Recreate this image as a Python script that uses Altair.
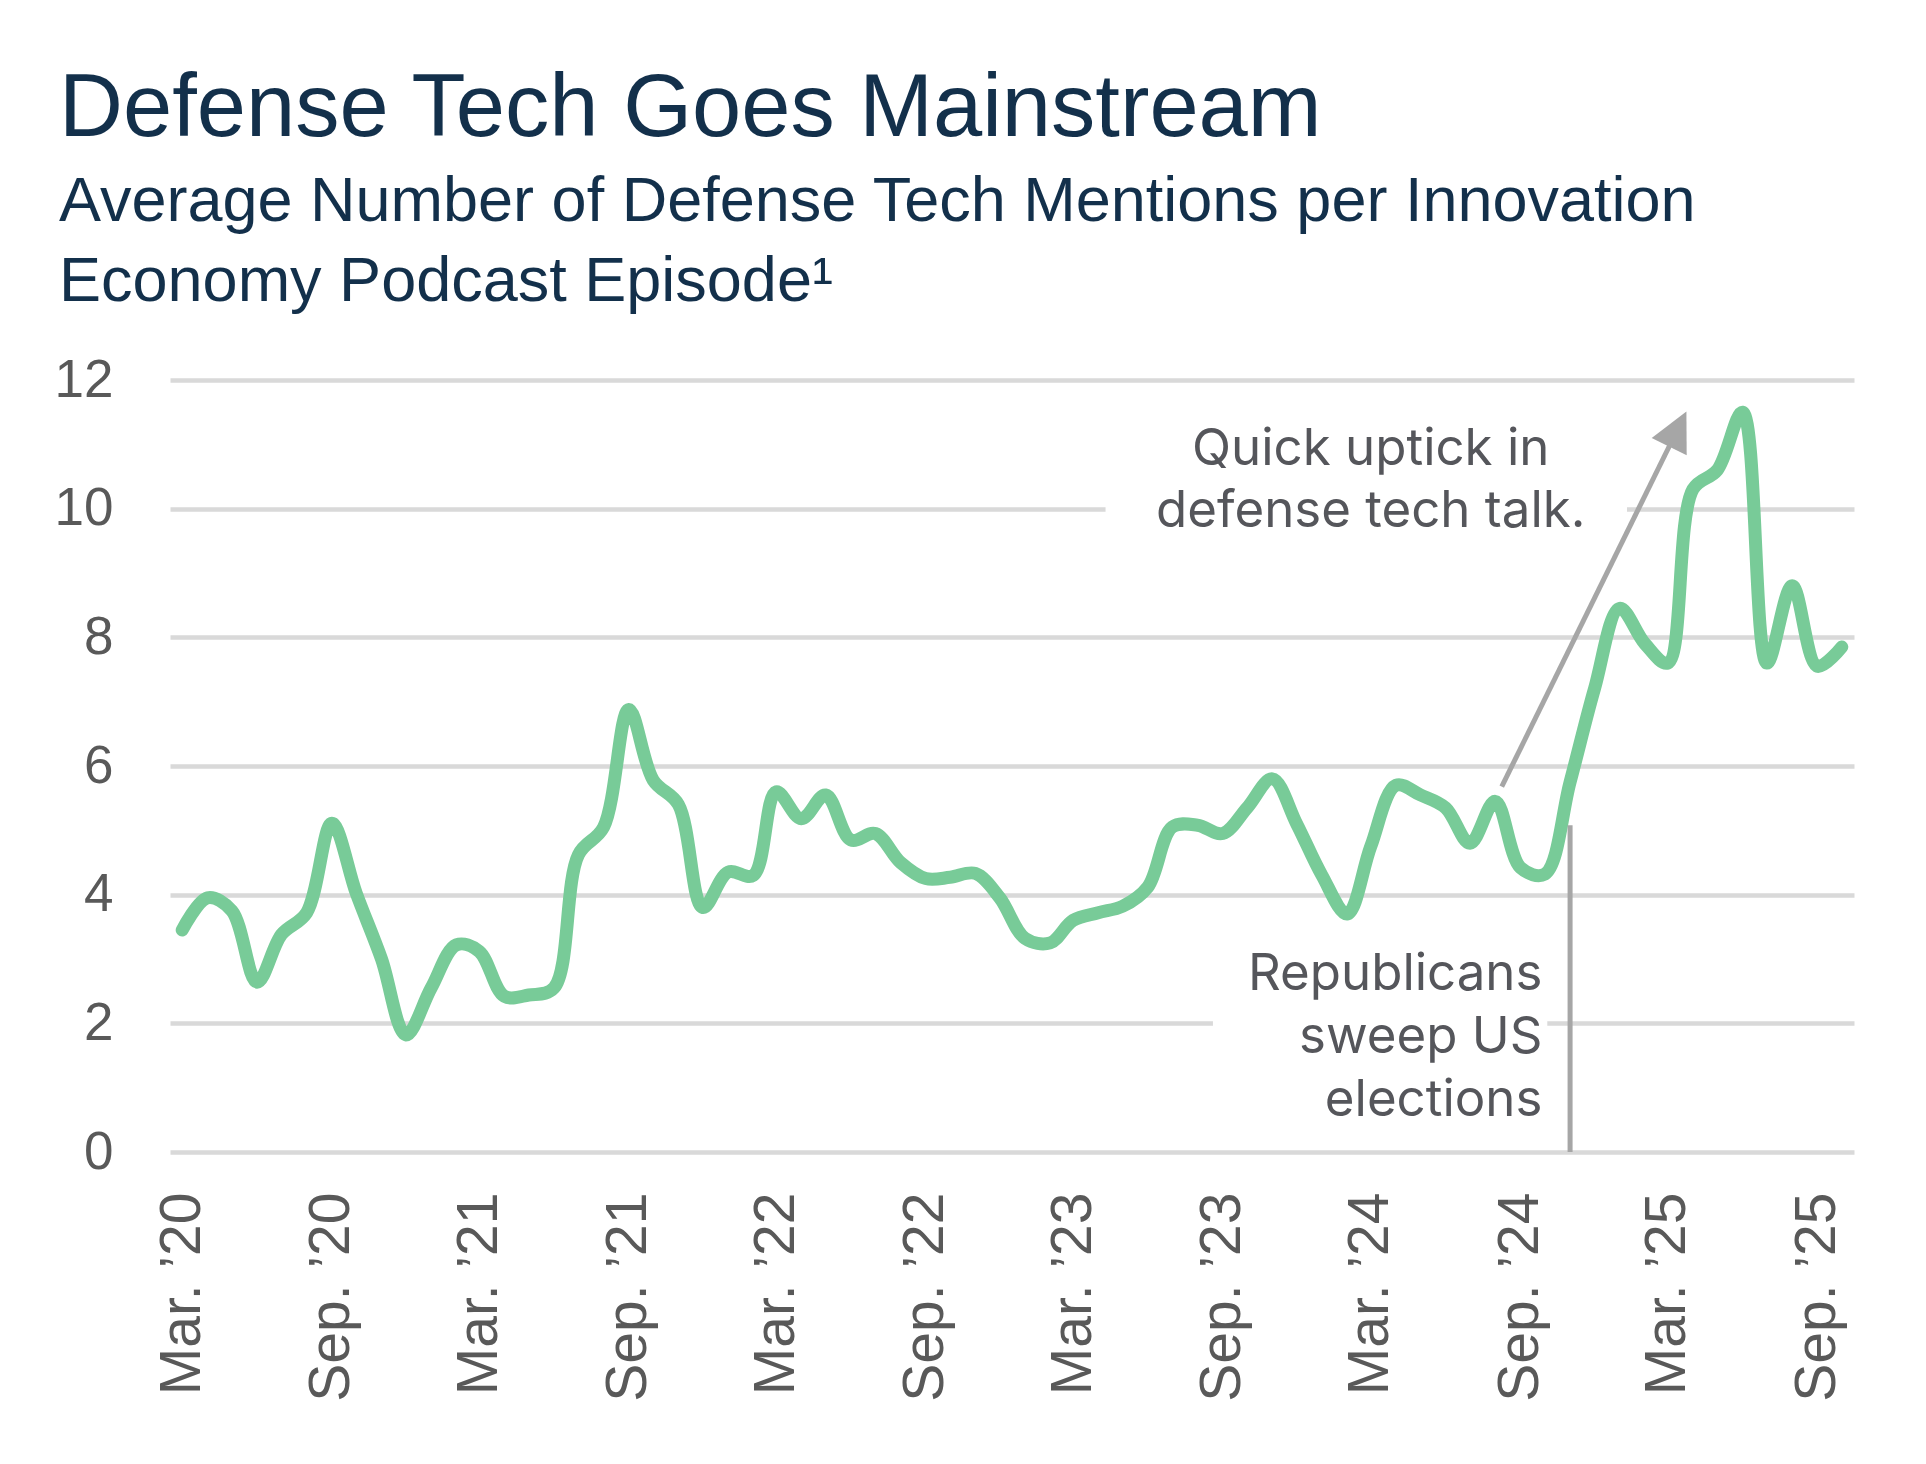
import math
from datetime import date, timedelta

import altair as alt
import pandas as pd

# ---------------- data ----------------
months = [d.strftime("%Y-%m-%d") for d in pd.date_range("2020-03-01", "2025-10-01", freq="MS")]
mentions = [
    3.45, 3.95, 3.75, 2.64, 3.38, 3.72, 5.11, 4.02, 3.00, 1.82,
    2.55, 3.22, 3.12, 2.42, 2.44, 2.55, 4.62, 5.05, 6.88, 5.78,
    5.40, 3.80, 4.35, 4.30, 5.60, 5.18, 5.55, 4.85, 4.95, 4.50,
    4.25, 4.27, 4.33, 3.95, 3.32, 3.25, 3.60, 3.72, 3.82, 4.12,
    5.05, 5.08, 4.95, 5.35, 5.80, 5.10, 4.30, 3.70, 4.75, 5.70,
    5.55, 5.35, 4.80, 5.45, 4.42, 4.32, 5.75, 7.20, 8.45, 7.90,
    7.60, 10.30, 10.60, 11.50, 7.60, 8.80, 7.55, 7.85,
]
assert len(months) == len(mentions)

tick_dates = [(2020, 3), (2020, 9), (2021, 3), (2021, 9), (2022, 3), (2022, 9),
              (2023, 3), (2023, 9), (2024, 3), (2024, 9), (2025, 3), (2025, 9)]
y_ticks = [0, 2, 4, 6, 8, 10, 12]

title_text = "Defense Tech Goes Mainstream"
subtitle_lines = ["Average Number of Defense Tech Mentions per Innovation",
                  "Economy Podcast Episode\u00b9"]

note_uptick = ["Quick uptick in", "defense tech talk."]
note_uptick_pos = ("2024-03-01", 10.68)
note_election = ["Republicans", "sweep US", "elections"]
note_election_pos = ("2024-09-28", 2.52)

election_line = ("2024-11-01", 0.0, 5.08)
arrow_start = ("2024-08-09", 5.68)
arrow_tip = ("2025-03-24", 11.51)

mask_uptick = ("2023-04-10", "2025-01-10", 9.40, 11.40)
mask_election = ("2023-08-20", "2024-10-04", 0.12, 3.30)

# ---------------- layout ----------------
W, H = 1684, 772
DMIN, DMAX = date(2020, 2, 15), date(2025, 10, 16)
TOTAL = (DMAX - DMIN).days
Y_MAX = 12


def to_px(d, v):
    dd = date.fromisoformat(d)
    return (dd - DMIN).days * W / TOTAL, H * (1 - v / Y_MAX)


def from_px(x, y):
    dd = DMIN + timedelta(days=round(x * TOTAL / W))
    return dd.isoformat(), Y_MAX * (1 - y / H)


sx, sy = to_px(*arrow_start)
tx, ty = to_px(*arrow_tip)
L = math.hypot(tx - sx, ty - sy)
ux, uy = (tx - sx) / L, (ty - sy) / L
arrow_angle = math.degrees(math.atan2(ux, -uy))
ex, ey = tx - 22 * ux, ty - 22 * uy
arrow_end = from_px(ex, ey)

GREEN = "#78CB98"
GREY_LINE = "#A6A6A6"
NAVY = "#13304B"
AXIS_GREY = "#595959"
NOTE_GREY = "#55565B"
NOTE_FONT = "Inter"
NOTE_SIZE = 51

x_scale = alt.Scale(type="utc",
                    domain=[alt.DateTime(year=2020, month=2, date=15, utc=True),
                            alt.DateTime(year=2025, month=10, date=16, utc=True)])
y_scale = alt.Scale(domain=[0, 12], nice=False, zero=True)

x_axis = alt.Axis(values=[alt.DateTime(year=y, month=m, date=1, utc=True) for y, m in tick_dates],
                  labelExpr="utcFormat(datum.value, '%b. \u2019%y')", labelAngle=-90,
                  labelFontSize=57, labelFont="Liberation Sans", labelColor=AXIS_GREY,
                  labelPadding=40, ticks=False, domain=False, grid=False,
                  labelOverlap=False, labelFlush=False, labelLimit=400, title=None)
y_axis = alt.Axis(values=y_ticks, format="d", labelFontSize=53, labelFont="Liberation Sans",
                  labelColor=AXIS_GREY, labelPadding=57, ticks=False, domain=False,
                  grid=True, gridColor="#D9D9D9", gridWidth=4.5, title=None)


def xq(field):
    return alt.X(f"{field}:T", scale=x_scale, axis=x_axis, title=None)


def yq(field):
    return alt.Y(f"{field}:Q", scale=y_scale, axis=y_axis, title=None)


df = pd.DataFrame({"month": months, "value": mentions})
line = alt.Chart(df).mark_line(color=GREEN, strokeWidth=13, strokeCap="round",
                               strokeJoin="round", interpolate="catmull-rom").encode(
    x=xq("month"), y=yq("value"))

masks = pd.DataFrame({
    "month": [mask_uptick[0], mask_election[0]],
    "x2": [mask_uptick[1], mask_election[1]],
    "value": [mask_uptick[2], mask_election[2]],
    "y2": [mask_uptick[3], mask_election[3]],
})
mask_layer = alt.Chart(masks).mark_rect(color="white").encode(
    x=xq("month"), x2="x2:T", y=yq("value"), y2="y2:Q")

vline_df = pd.DataFrame({"month": [election_line[0]], "value": [election_line[1]],
                         "y2": [election_line[2]]})
vline = alt.Chart(vline_df).mark_rule(color=GREY_LINE, strokeWidth=5).encode(
    x=xq("month"), y=yq("value"), y2="y2:Q")

arrow_df = pd.DataFrame({"month": [arrow_start[0]], "x2": [arrow_end[0]],
                         "value": [arrow_start[1]], "y2": [arrow_end[1]]})
arrow_line = alt.Chart(arrow_df).mark_rule(color=GREY_LINE, strokeWidth=5).encode(
    x=xq("month"), x2="x2:T", y=yq("value"), y2="y2:Q")

head_df = pd.DataFrame({"month": [arrow_tip[0]], "value": [arrow_tip[1]]})
arrow_head = alt.Chart(head_df).mark_point(shape="M0,0L-1,2L1,2Z", filled=True, size=1521,
                                           angle=arrow_angle, color=GREY_LINE, opacity=1,
                                           strokeWidth=0).encode(
    x=xq("month"), y=yq("value"))

notes_df = pd.DataFrame({"month": [note_uptick_pos[0]], "value": [note_uptick_pos[1]],
                         "t": [note_uptick]})
note1 = alt.Chart(notes_df).mark_text(font=NOTE_FONT, fontSize=NOTE_SIZE, color=NOTE_GREY,
                                      align="center", baseline="alphabetic", lineHeight=62).encode(
    x=xq("month"), y=yq("value"), text="t")

notes2_df = pd.DataFrame({"month": [note_election_pos[0]], "value": [note_election_pos[1]],
                          "t": [note_election]})
note2 = alt.Chart(notes2_df).mark_text(font=NOTE_FONT, fontSize=NOTE_SIZE, color=NOTE_GREY,
                                       align="right", baseline="alphabetic", lineHeight=63).encode(
    x=xq("month"), y=yq("value"), text="t")

chart = alt.layer(line, mask_layer, vline, arrow_line, arrow_head, note1, note2).properties(
    width=W, height=H,
    autosize=alt.AutoSizeParams(type="none"),
    padding={"left": 162, "top": 372, "right": 60, "bottom": 300},
    background="white",
    title=alt.TitleParams(
        text=title_text, subtitle=subtitle_lines, anchor="start", frame="group", dx=-111,
        offset=39, font="Liberation Sans", subtitleFont="Liberation Sans",
        fontSize=88.5, subtitleFontSize=63, fontWeight="normal", subtitleFontWeight="normal",
        color=NAVY, subtitleColor=NAVY, subtitlePadding=17, subtitleLineHeight=80,
    ),
).configure_view(stroke=None)

chart.save("out.html", embed_options={"renderer": "svg", "actions": False})
